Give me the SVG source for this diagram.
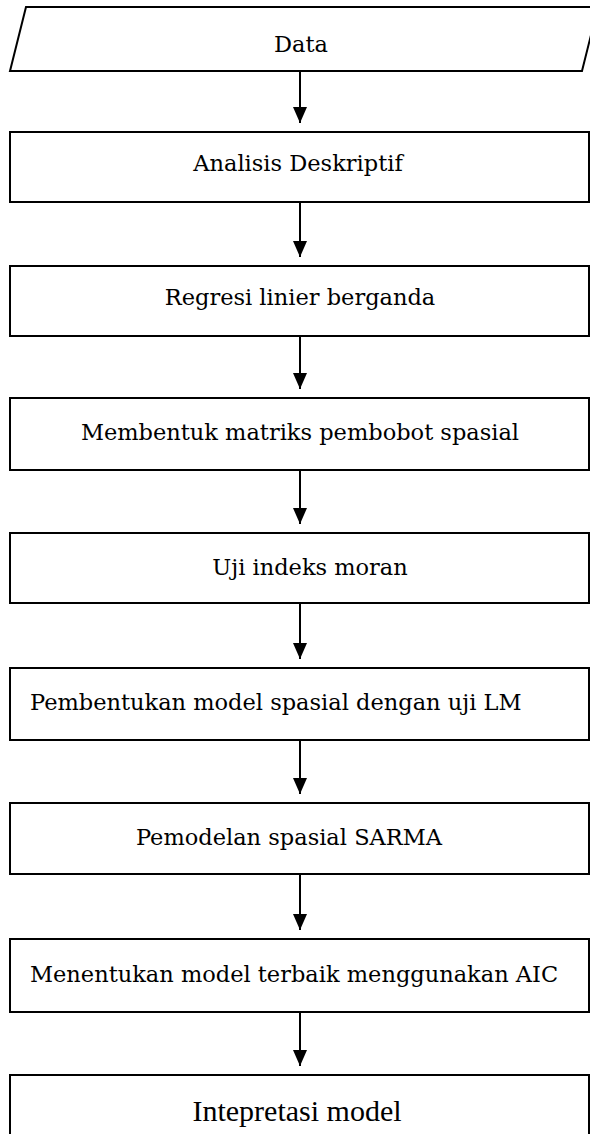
<svg xmlns="http://www.w3.org/2000/svg" width="590" height="1134" viewBox="0 0 590 1134">
<style>
.shape{fill:#fff;stroke:#000;stroke-width:2}
.t{font-family:"DejaVu Serif",serif;font-size:22.5px;fill:#000}
.tl{font-family:"Liberation Serif","Times New Roman",serif;font-size:30px;fill:#000}
.c{stroke:#000;stroke-width:2;fill:none}
</style>
<defs>
<marker id="ah" markerUnits="userSpaceOnUse" markerWidth="16" markerHeight="14" refX="16" refY="7" orient="auto">
<path d="M0,0 L16,7 L0,14 Z" fill="#000"/>
</marker>
</defs>
<rect width="590" height="1134" fill="#fff"/>
<g id="connectors">
<line class="c" x1="300" y1="71" x2="300" y2="123" marker-end="url(#ah)"/>
<line class="c" x1="300" y1="202" x2="300" y2="257" marker-end="url(#ah)"/>
<line class="c" x1="300" y1="336" x2="300" y2="389" marker-end="url(#ah)"/>
<line class="c" x1="300" y1="470" x2="300" y2="524" marker-end="url(#ah)"/>
<line class="c" x1="300" y1="603" x2="300" y2="659" marker-end="url(#ah)"/>
<line class="c" x1="300" y1="740" x2="300" y2="794" marker-end="url(#ah)"/>
<line class="c" x1="300" y1="874" x2="300" y2="930" marker-end="url(#ah)"/>
<line class="c" x1="300" y1="1012" x2="300" y2="1066" marker-end="url(#ah)"/>
</g>
<g id="n-data">
<polygon class="shape" points="26,7 598,7 582,71 10,71"/>
<text class="t" x="301" y="52" text-anchor="middle">Data</text>
</g>
<g id="n-analisis">
<rect class="shape" x="10" y="132" width="579" height="70"/>
<text class="t" x="298" y="171" text-anchor="middle">Analisis Deskriptif</text>
</g>
<g id="n-regresi">
<rect class="shape" x="10" y="266" width="579" height="70"/>
<text class="t" x="300" y="305" text-anchor="middle">Regresi linier berganda</text>
</g>
<g id="n-matriks">
<rect class="shape" x="10" y="398" width="579" height="72"/>
<text class="t" x="300" y="440" text-anchor="middle">Membentuk matriks pembobot spasial</text>
</g>
<g id="n-moran">
<rect class="shape" x="10" y="533" width="579" height="70"/>
<text class="t" x="310" y="575" text-anchor="middle">Uji indeks moran</text>
</g>
<g id="n-lm">
<rect class="shape" x="10" y="668" width="579" height="72"/>
<text class="t" x="30" y="710">Pembentukan model spasial dengan uji LM</text>
</g>
<g id="n-sarma">
<rect class="shape" x="10" y="803" width="579" height="71"/>
<text class="t" x="289" y="845" text-anchor="middle">Pemodelan spasial SARMA</text>
</g>
<g id="n-aic">
<rect class="shape" x="10" y="939" width="579" height="73"/>
<text class="t" x="30" y="982">Menentukan model terbaik menggunakan AIC</text>
</g>
<g id="n-interpretasi">
<rect class="shape" x="10" y="1075" width="579" height="80"/>
<text class="tl" x="297" y="1121" text-anchor="middle">Intepretasi model</text>
</g>
</svg>
